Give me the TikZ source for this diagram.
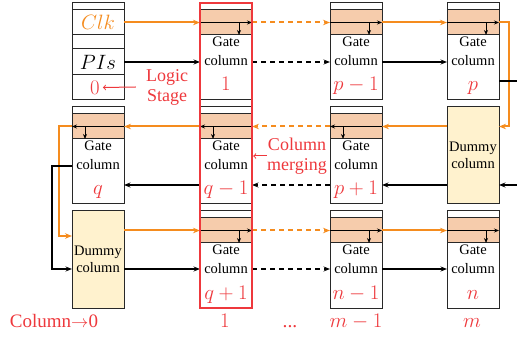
\documentclass[tikz,border=0pt]{standalone}
\usepackage{amsmath}
\usepackage{fontspec}
\setmainfont{Liberation Serif}
\usetikzlibrary{arrows,arrows.meta,positioning,fit}

\definecolor{orng}{RGB}{245,140,30}
\definecolor{peach}{RGB}{246,204,172}
\definecolor{cream}{RGB}{255,242,206}
\definecolor{lred}{RGB}{238,56,60}
\definecolor{edge}{RGB}{40,40,40}

\begin{document}
\begin{tikzpicture}[
    x=1pt, y=-1pt,
    strip/.style={rectangle, draw=edge, fill=white, line width=1pt, minimum width=52pt, minimum height=7pt, inner sep=0pt, outer sep=0pt, anchor=north west},
    band/.style={strip, fill=peach, minimum height=25pt},
    body/.style={strip, minimum height=65pt},
    dummy/.style={strip, fill=cream, minimum height=97pt, align=center, font=\fontsize{14.5}{17}\selectfont},
    gtxt/.style={align=center, inner sep=0pt, font=\fontsize{14.5}{19}\selectfont},
    glbl/.style={anchor=base, inner sep=0pt, text=lred, font=\fontsize{19.5}{23}\selectfont},
    rtxt/.style={align=center, inner sep=0pt, text=lred, font=\fontsize{18}{20}\selectfont},
    arrow/.style={-{Stealth[length=6.5pt,width=5pt]}, line width=1.3pt},
    oarrow/.style={-{Stealth[length=7pt,width=5.5pt]}, line width=2pt, draw=orng},
    dsh/.style={dash pattern=on 5pt off 4pt},
    inarrow/.style={-{Stealth[length=5pt,width=4pt]}, line width=1pt},
    rarrow/.style={->, >=to, draw=lred, line width=1pt},
    merge/.style={draw=lred, line width=2.4pt, inner sep=0pt}
]
    \useasboundingbox (0,0) rectangle (517,339);

    % input column
    \node[strip] (c0r1-s) at (72,3) {};
    \node[strip, minimum height=25pt, below=0pt of c0r1-s, text=orng, font=\fontsize{20}{24}\selectfont] (clk) {$Clk$};
    \node[strip, minimum height=14pt, below=0pt of clk] (c0r1-m) {};
    \node[strip, minimum height=26pt, below=0pt of c0r1-m, font=\fontsize{20}{24}\selectfont] (pis) {$PIs$};
    \node[strip, minimum height=25pt, below=0pt of pis] (stage) {};
    \node[glbl, anchor=center] (stg0) at ([xshift=-3pt]stage.center) {$0$};

    % gate columns
    \foreach \nm/\px/\py/\lab/\src/\dst/\dx in {
        c1r1/200/3/1/west/east/-13, c2r1/330/3/p-1/west/east/-13, c3r1/447/3/p/west/east/-13,
        c0r2/72/107/q/east/west/13, c1r2/200/107/q-1/east/west/13, c2r2/330/107/p+1/east/west/13,
        c1r3/200/211/q+1/west/east/-13, c2r3/330/211/n-1/west/east/-13, c3r3/447/211/n/west/east/-13}
    {
        \node[strip] (\nm-s) at (\px,\py) {};
        \node[band, below=0pt of \nm-s] (\nm-b) {};
        \node[body, below=0pt of \nm-b] (\nm) {};
        \node[gtxt] (\nm-t) at ([yshift=-16.5pt]\nm.north) {Gate\\column};
        \node[glbl] (\nm-l) at ([yshift=-56pt]\nm.north) {$\lab$};
        \draw[inarrow] (\nm-b.\src) -- (\nm-b.\dst);
        \draw[inarrow] ([xshift=\dx]\nm-b.\dst) -- ([xshift=\dx]\nm.north \dst);
    }

    \node[dummy] (d1) at (447,107) {Dummy\\column};
    \node[dummy] (d0) at (72,211) {Dummy\\column};

    \coordinate (r1) at (0,62);
    \coordinate (r2) at (0,185);
    \coordinate (r3) at (0,269);

    % clock path
    \draw[oarrow] (clk.east) -- (c1r1-b.west);
    \draw[oarrow, dsh] (c1r1-b.east) -- (c2r1-b.west);
    \draw[oarrow] (c2r1-b.east) -- (c3r1-b.west);
    \draw[oarrow] (c3r1-b.east) -- ++(10,0) |- (c2r2-b.east -| d1.east);
    \draw[oarrow] (c2r2-b.east -| d1.west) -- (c2r2-b.east);
    \draw[oarrow, dsh] (c2r2-b.west) -- (c1r2-b.east);
    \draw[oarrow] (c1r2-b.west) -- (c0r2-b.east);
    \draw[oarrow] (c0r2-b.west) -- ++(-13,0) |- ([yshift=-25pt]d0.north west);
    \draw[oarrow] (c1r3-b.west -| d0.east) -- (c1r3-b.west);
    \draw[oarrow, dsh] (c1r3-b.east) -- (c2r3-b.west);
    \draw[oarrow] (c2r3-b.east) -- (c3r3-b.west);

    % data path
    \draw[arrow] (pis.east) -- (r1 -| c1r1.west);
    \draw[arrow, dsh] (r1 -| c1r1.east) -- (r1 -| c2r1.west);
    \draw[arrow] (r1 -| c2r1.east) -- (r1 -| c3r1.west);
    \draw[arrow] ([yshift=-13.5pt]c3r1.east) -- ++(30,0) |- (r2 -| d1.east);
    \draw[arrow] (r2 -| d1.west) -- (r2 -| c2r2.east);
    \draw[arrow, dsh] (r2 -| c2r2.west) -- (r2 -| c1r2.east);
    \draw[arrow] (r2 -| c1r2.west) -- (r2 -| c0r2.east);
    \draw[arrow] ([yshift=5.5pt]c0r2.west) -- ++(-20,0) |- (r3 -| d0.west);
    \draw[arrow] (r3 -| d0.east) -- (r3 -| c1r3.west);
    \draw[arrow, dsh] (r3 -| c1r3.east) -- (r3 -| c2r3.west);
    \draw[arrow] (r3 -| c2r3.east) -- (r3 -| c3r3.west);

    \node[merge, fit=(c1r1-s)(c1r3)] (mrg) {};

    \node[rtxt] (lstage) at (167,87) {Logic\\Stage};
    \draw[rarrow] ([xshift=-10pt]lstage.west) -- ([xshift=3pt]stg0.east);
    \node[rtxt] (mtxt) at (297,156) {Column\\merging};
    \draw[rarrow] (mtxt.west) -- (mtxt.west -| mrg.east);

    \node[glbl, font=\fontsize{19}{23}\selectfont] (colname) at (54,327) {Column$\rightarrow$0};
    \node[glbl] (b1) at (225,327) {$1$};
    \node[glbl] (bdots) at (290,327) {...};
    \node[glbl] (bm1) at (356,327) {$m-1$};
    \node[glbl] (bm) at (472,327) {$m$};
\end{tikzpicture}
\end{document}
